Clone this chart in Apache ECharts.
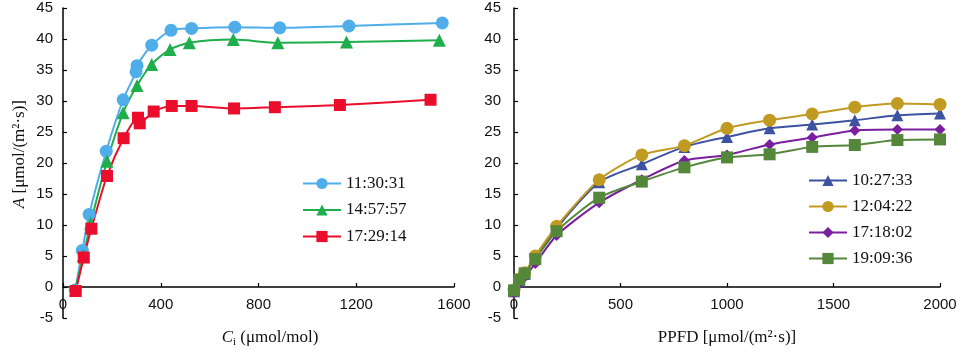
<!DOCTYPE html>
<html><head><meta charset="utf-8">
<script src="https://cdn.jsdelivr.net/npm/echarts@6/dist/echarts.min.js"></script>
<style>html,body{margin:0;padding:0;background:#fff}#c{width:961px;height:352px}</style>
</head><body><div id="c"></div>
<script>
// Left panel: A vs Ci
const ciBlue = [50, 79, 107, 177, 246, 299, 303, 363, 442, 526, 703, 887, 1170, 1552];
const aBlue  = [-0.5, 5.9, 11.7, 21.9, 30.2, 34.7, 35.7, 39.0, 41.4, 41.7, 41.9, 41.8, 42.1, 42.6];
const ciGreen = [50, 83, 113, 180, 246, 303, 363, 438, 517, 697, 879, 1160, 1540];
const aGreen  = [-0.5, 5.1, 10.3, 20.3, 28.1, 32.5, 35.9, 38.3, 39.4, 39.9, 39.4, 39.5, 39.8];
const ciRed = [52, 85, 116, 180, 248, 307, 314, 371, 445, 526, 700, 867, 1133, 1504];
const aRed  = [-0.65, 4.75, 9.4, 17.9, 24.0, 27.3, 26.4, 28.3, 29.2, 29.2, 28.8, 29.0, 29.35, 30.2];
const leftNames = ['11:30:31', '14:57:57', '17:29:14'];
const ciTicks = [0, 400, 800, 1200, 1600];

// Right panel: A vs PPFD
const ppfd = [0, 25, 50, 100, 200, 400, 600, 800, 1000, 1200, 1400, 1600, 1800, 2000];
const a1027 = [-0.7, 1.0, 2.1, 4.8, 9.5, 16.9, 19.8, 22.6, 24.2, 25.6, 26.2, 26.9, 27.7, 28.0];
const a1204 = [-0.5, 1.2, 2.3, 5.0, 9.8, 17.3, 21.3, 22.8, 25.6, 26.9, 27.9, 29.0, 29.6, 29.45];
const a1718 = [-1.0, 0.5, 1.6, 3.8, 8.3, 13.6, 17.3, 20.4, 21.3, 23.0, 24.1, 25.25, 25.4, 25.4];
const a1909 = [-0.55, 1.2, 2.2, 4.5, 9.0, 14.4, 17.0, 19.3, 20.9, 21.4, 22.6, 22.9, 23.7, 23.8];
const rightNames = ['10:27:33', '12:04:22', '17:18:02', '19:09:36'];
const ppfdTicks = [0, 500, 1000, 1500, 2000];
const aTicks = [-5, 0, 5, 10, 15, 20, 25, 30, 35, 40, 45];

const pair = (xs, ys) => xs.map((x, i) => [x, ys[i]]);
const serif = 'Liberation Serif';
const sans = 'Liberation Sans';
const GRID_TOP = 8, GRID_H = 310;
const yMin = aTicks[0], yMax = aTicks[aTicks.length - 1];
// shift the x axis up so it sits on A = 0
const zeroOffset = -GRID_H * (0 - yMin) / (yMax - yMin);

function yAx(gi, margin) {
  return {
    gridIndex: gi, type: 'value', min: yMin, max: yMax, interval: 5,
    axisLine: {show: true, lineStyle: {color: '#000', width: 1.5}},
    axisTick: {show: true, inside: true, length: 4, lineStyle: {color: '#000', width: 1.2}},
    axisLabel: {fontFamily: sans, fontSize: 15, color: '#111', margin: margin},
    splitLine: {show: false}
  };
}
function xAx(gi, ticks) {
  return {
    gridIndex: gi, type: 'value', min: ticks[0], max: ticks[ticks.length - 1], interval: ticks[1] - ticks[0],
    offset: zeroOffset,
    axisLine: {show: true, onZero: false, lineStyle: {color: '#000', width: 1.5}},
    axisTick: {show: true, inside: true, length: 4, lineStyle: {color: '#000', width: 1.2}},
    axisLabel: {fontFamily: sans, fontSize: 15, color: '#111', margin: 10, formatter: v => String(v)},
    splitLine: {show: false}
  };
}
function ser(name, data, gi, color, symbol, size) {
  return {
    name: name, type: 'line', xAxisIndex: gi, yAxisIndex: gi, data: data,
    smooth: 0.25, symbol: symbol, symbolSize: size, showSymbol: true,
    lineStyle: {color: color, width: 2}, itemStyle: {color: color, opacity: 1},
    emphasis: {disabled: true}, z: 3
  };
}

const chart = echarts.init(document.getElementById('c'), null, {renderer: 'canvas'});
chart.setOption({
  animation: false,
  backgroundColor: '#fff',
  grid: [
    {left: 63, top: GRID_TOP, width: 391, height: GRID_H},
    {left: 514, top: GRID_TOP, width: 426, height: GRID_H}
  ],
  xAxis: [xAx(0, ciTicks), xAx(1, ppfdTicks)],
  yAxis: [yAx(0, 10), yAx(1, 13)],
  legend: [
    {data: leftNames, orient: 'vertical', left: 302, top: 175, padding: 0, itemWidth: 38, itemHeight: 14, itemGap: 9.5,
     textStyle: {fontFamily: serif, fontSize: 17, color: '#111'}, selectedMode: false},
    {data: rightNames, orient: 'vertical', left: 808, top: 172, padding: 0, itemWidth: 38, itemHeight: 14, itemGap: 9,
     textStyle: {fontFamily: serif, fontSize: 17, color: '#111'}, selectedMode: false}
  ],
  series: [
    ser(leftNames[0], pair(ciBlue, aBlue), 0, '#4faeea', 'circle', 13),
    ser(leftNames[1], pair(ciGreen, aGreen), 0, '#1fae4c', 'triangle', 13),
    ser(leftNames[2], pair(ciRed, aRed), 0, '#ea0d2c', 'rect', 12),
    ser(rightNames[0], pair(ppfd, a1027), 1, '#3d52a0', 'triangle', 12),
    ser(rightNames[1], pair(ppfd, a1204), 1, '#c19b21', 'circle', 13),
    ser(rightNames[2], pair(ppfd, a1718), 1, '#7a1fa0', 'diamond', 11),
    ser(rightNames[3], pair(ppfd, a1909), 1, '#54873a', 'rect', 12)
  ],
  graphic: [
    {type: 'text', left: 11, top: 100, rotation: Math.PI / 2, style: {
      text: '{i|A} [μmol/(m²·s)]', fill: '#111', font: '17px ' + serif,
      rich: {i: {fontStyle: 'italic', fontFamily: serif, fontSize: 17}}
    }},
    {type: 'text', x: 270, y: 338, style: {
      text: '{i|C}{s|i} (μmol/mol)', fill: '#111', font: '17px ' + serif, align: 'center', verticalAlign: 'middle',
      rich: {i: {fontStyle: 'italic', fontFamily: serif, fontSize: 17}, s: {fontFamily: serif, fontSize: 11, padding: [8, 0, 0, 0]}}
    }},
    {type: 'text', x: 727, y: 338, style: {
      text: 'PPFD [μmol/(m²·s)]', fill: '#111', font: '17px ' + serif, align: 'center', verticalAlign: 'middle'
    }}
  ]
});
</script></body></html>
